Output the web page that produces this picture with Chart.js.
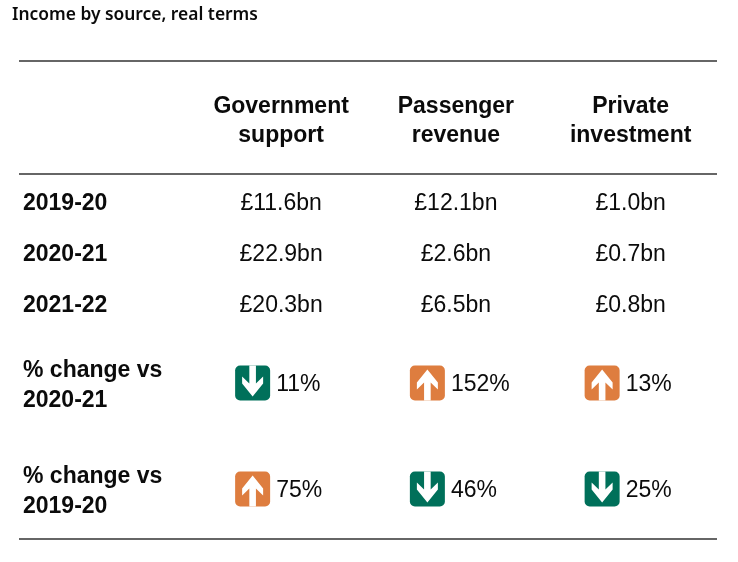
<!DOCTYPE html>
<html>
<head>
<meta charset="utf-8">
<script src="https://cdn.jsdelivr.net/npm/chart.js@4.4.1/dist/chart.umd.min.js"></script>
<style>
  html, body { margin: 0; padding: 0; background: #fff; }
  #wrap { width: 738px; height: 562px; position: relative; }
</style>
</head>
<body>
<div id="wrap"><canvas id="tabla"></canvas></div>
<script>
// Datos
const titulo = "Income by source, real terms";
const fuentes = [["Government", "support"], ["Passenger", "revenue"], ["Private", "investment"]];
const años = ["2019-20", "2020-21", "2021-22"];
const apoyoGobierno = [11.6, 22.9, 20.3];
const ingresosPasajeros = [12.1, 2.6, 6.5];
const inversionPrivada = [1.0, 0.7, 0.8];
const etiquetasCambio = [["% change vs", "2020-21"], ["% change vs", "2019-20"]];
const cambioVs2021 = [-11, 152, 13];
const cambioVs1920 = [75, -46, -25];

// Estilo / posiciones (px desde la parte superior del área)
const VERDE = "#00705a";
const NARANJA = "#de7d3f";
const TEXTO = "#0b0b0b";
const FAMILIA = "Arial, 'Liberation Sans', Helvetica, sans-serif";
const filaCabecera = [44, 73];
const lineaMedia = 113;
const filasAños = [141, 192, 243];
const filasCambio = [322, 428];

const columnas = [apoyoGobierno, ingresosPasajeros, inversionPrivada];
const cambios = [cambioVs2021, cambioVs1920];

// forma de la flecha hacia abajo (dx, dy desde el centro-arriba del cuadro)
const formaFlecha = [[-3.3, 0], [3.3, 0], [3.3, 18], [10.5, 11], [10.5, 18], [0, 31],
  [-10.5, 18], [-10.5, 11], [-3.3, 18]];

function flecha(ctx, x, y, s, arriba) {
  ctx.save();
  ctx.fillStyle = arriba ? NARANJA : VERDE;
  ctx.beginPath();
  ctx.roundRect(x, y, s, s, 5);
  ctx.fill();
  ctx.fillStyle = "#fff";
  ctx.beginPath();
  const cx = x + s / 2;
  formaFlecha.forEach(function (p, k) {
    const py = arriba ? y + s - p[1] : y + p[1];
    if (k === 0) ctx.moveTo(cx + p[0], py);
    else ctx.lineTo(cx + p[0], py);
  });
  ctx.closePath();
  ctx.fill();
  ctx.restore();
}

const pluginTabla = {
  id: "tabla",
  afterDraw(chart) {
    const ctx = chart.ctx;
    const area = chart.chartArea;
    const xs = chart.scales.x;
    const top = area.top;

    ctx.save();
    // titulo
    ctx.fillStyle = TEXTO;
    ctx.font = "600 17.4px 'Noto Sans'";
    ctx.textAlign = "left";
    ctx.textBaseline = "alphabetic";
    ctx.fillText(titulo, 12, 20);

    // lineas
    ctx.strokeStyle = "#333";
    ctx.lineWidth = 1.5;
    [0, lineaMedia, area.bottom - top].forEach(function (dy) {
      ctx.beginPath();
      ctx.moveTo(area.left, top + dy);
      ctx.lineTo(area.right - 1, top + dy);
      ctx.stroke();
    });

    // cabeceras
    ctx.font = "bold 23px " + FAMILIA;
    ctx.textAlign = "center";
    fuentes.forEach(function (f, i) {
      const x = xs.getPixelForValue(i + 1);
      f.forEach(function (linea, j) {
        ctx.fillText(linea, x, top + filaCabecera[j] + 8);
      });
    });

    // filas de años
    años.forEach(function (a, r) {
      const y = top + filasAños[r] + 8;
      ctx.font = "bold 23px " + FAMILIA;
      ctx.textAlign = "left";
      ctx.fillText(a, area.left + 4, y);
      ctx.font = "23px " + FAMILIA;
      ctx.textAlign = "center";
      columnas.forEach(function (col, i) {
        ctx.fillText("£" + col[r].toFixed(1) + "bn", xs.getPixelForValue(i + 1), y);
      });
    });

    // filas de cambio
    cambios.forEach(function (serie, r) {
      const yc = top + filasCambio[r];
      ctx.font = "bold 23px " + FAMILIA;
      ctx.textAlign = "left";
      ctx.fillText(etiquetasCambio[r][0], area.left + 4, yc - 6.5);
      ctx.fillText(etiquetasCambio[r][1], area.left + 4, yc + 23.5);
      ctx.font = "23px " + FAMILIA;
      serie.forEach(function (v, i) {
        const x = xs.getPixelForValue(i + 1);
        const s = 35;
        const x0 = x - 46;
        flecha(ctx, x0, yc - s / 2, s, v > 0);
        ctx.fillStyle = TEXTO;
        ctx.textAlign = "left";
        ctx.fillText(Math.abs(v) + "%", x0 + s + 6, yc + 8);
      });
    });
    ctx.restore();
  }
};

window.onload = function () {
  const ctx = document.getElementById("tabla").getContext("2d");
  new Chart(ctx, {
    type: "bar",
    data: {
      labels: [""].concat(fuentes.map(function (f) { return f.join(" "); })),
      datasets: [],
    },
    options: {
      responsive: true,
      maintainAspectRatio: false,
      animation: false,
      layout: { padding: { left: 19, right: 20, top: 61, bottom: 23 } },
      plugins: { legend: { display: false }, tooltip: { enabled: false } },
      scales: {
        x: { display: false, offset: true },
        y: { display: false },
      },
    },
    plugins: [pluginTabla],
  });
};
</script>
</body>
</html>
